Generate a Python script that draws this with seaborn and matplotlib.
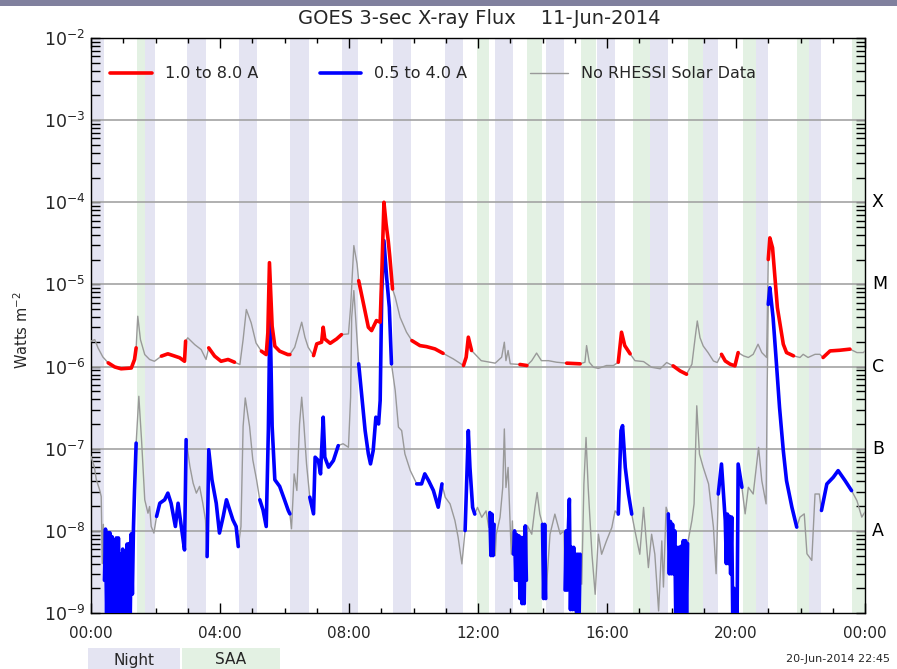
import numpy as np
import pandas as pd
import matplotlib
matplotlib.use("Agg")
import matplotlib.pyplot as plt
from matplotlib.lines import Line2D
from matplotlib.patches import Rectangle
from matplotlib.ticker import LogLocator, NullFormatter, FixedLocator
import seaborn as sns

# GOES-15 1.0-8.0 A channel: minutes after 00:00 UT, flux in W m^-2
long_min = [0, 7, 13, 22, 32, 44, 56, 75, 81, 84, 87, 92, 100, 109, 118, 131, 143, 156, 165, 174,
            176, 180, 193, 205, 214, 219, 230, 242, 255, 267, 277, 283, 289, 298, 307, 317, 326, 329, 332, 337,
            342, 351, 366, 370, 379, 392, 398, 404, 414, 420, 429, 432, 435, 445, 457, 466, 479, 483, 489, 495,
            498, 507, 516, 522, 531, 538, 541, 545, 549, 553, 556, 561, 566, 575, 587, 597, 612, 624, 640, 655,
            674, 693, 698, 702, 708, 726, 742, 752, 764, 769, 772, 776, 780, 798, 811, 820, 829, 838, 851, 866,
            885, 910, 919, 922, 927, 935, 944, 959, 972, 981, 987, 993, 1003, 1012, 1028, 1043, 1059, 1071, 1083, 1096,
            1108, 1118, 1124, 1128, 1133, 1139, 1148, 1158, 1165, 1173, 1180, 1189, 1198, 1204, 1214, 1223, 1232, 1241, 1248, 1257,
            1260, 1263, 1268, 1273, 1277, 1282, 1288, 1294, 1307, 1319, 1325, 1334, 1347, 1356, 1362, 1375, 1393, 1412, 1425, 1437,
            1440]
long_flux = [2.04e-6, 2.13e-6, 1.69e-6, 1.31e-6, 1.11e-6, 9.9e-7, 9.4e-7, 9.6e-7, 1.22e-6, 1.69e-6,
             4.1e-6, 2.13e-6, 1.4e-6, 1.22e-6, 1.16e-6, 1.34e-6, 1.43e-6, 1.34e-6, 1.28e-6, 1.16e-6,
             2.04e-6, 2.24e-6, 1.85e-6, 1.61e-6, 1.22e-6, 1.69e-6, 1.34e-6, 1.16e-6, 1.22e-6, 1.13e-6,
             1.06e-6, 2.13e-6, 4.95e-6, 3.41e-6, 1.94e-6, 1.54e-6, 1.4e-6, 2.57e-6, 1.84e-5, 3.1e-6,
             1.77e-6, 1.54e-6, 1.4e-6, 1.4e-6, 1.72e-6, 3.47e-6, 2.28e-6, 1.72e-6, 1.36e-6, 1.89e-6,
             1.98e-6, 3.01e-6, 2.17e-6, 1.92e-6, 2.17e-6, 2.45e-6, 2.5e-6, 5.27e-6, 2.97e-5, 1.78e-5,
             1.11e-5, 5.8e-6, 3.01e-6, 2.74e-6, 3.63e-6, 3.47e-6, 1.34e-5, 1.0e-4, 5.45e-5, 3.41e-5,
             2.14e-5, 8.8e-6, 6.98e-6, 3.98e-6, 2.62e-6, 2.07e-6, 1.8e-6, 1.75e-6, 1.64e-6, 1.45e-6,
             1.24e-6, 1.03e-6, 1.3e-6, 2.28e-6, 1.57e-6, 1.18e-6, 1.13e-6, 1.1e-6, 1.3e-6, 1.98e-6,
             1.18e-6, 1.57e-6, 1.08e-6, 1.06e-6, 1.03e-6, 1.18e-6, 1.46e-6, 1.18e-6, 1.18e-6, 1.13e-6,
             1.1e-6, 1.08e-6, 1.13e-6, 1.8e-6, 1.13e-6, 9.8e-7, 9.5e-7, 1.03e-6, 1.03e-6, 1.13e-6,
             2.62e-6, 1.8e-6, 1.43e-6, 1.18e-6, 1.15e-6, 9.8e-7, 9.4e-7, 1.12e-6, 1.02e-6, 8.85e-7,
             8.07e-7, 1.07e-6, 2.25e-6, 3.59e-6, 2.25e-6, 1.78e-6, 1.48e-6, 1.17e-6, 1.12e-6, 1.41e-6,
             1.17e-6, 1.07e-6, 1.02e-6, 1.48e-6, 1.35e-6, 1.29e-6, 1.41e-6, 1.87e-6, 1.48e-6, 1.29e-6,
             2.01e-5, 3.69e-5, 2.79e-5, 1.1e-5, 5.21e-6, 3.27e-6, 1.87e-6, 1.48e-6, 1.35e-6, 1.29e-6,
             1.41e-6, 1.29e-6, 1.41e-6, 1.41e-6, 1.29e-6, 1.55e-6, 1.58e-6, 1.63e-6, 1.48e-6, 1.48e-6,
             1.55e-6]

# GOES-15 0.5-4.0 A channel (quiet stretches swing rapidly between the
# upper and lower edges of the background noise)
short_min = [0, 6, 10, 16, 19, 21, 23, 25, 27, 29,
             31, 33, 35, 37, 39, 41, 43, 45, 47, 49,
             51, 53, 55, 57, 59, 61, 63, 65, 67, 69,
             71, 73, 75, 77, 79, 81, 84, 89, 94, 100,
             106, 109, 112, 117, 122, 128, 137, 143, 149, 157,
             162, 168, 174, 177, 184, 190, 196, 202, 208, 213,
             216, 219, 225, 233, 239, 246, 252, 258, 264, 270,
             274, 279, 283, 287, 295, 301, 308, 314, 320, 326,
             330, 333, 337, 342, 351, 360, 367, 370, 373, 378,
             383, 388, 392, 396, 401, 407, 414, 417, 423, 427,
             432, 435, 442, 451, 460, 469, 479, 483, 485, 489,
             494, 498, 504, 510, 516, 520, 525, 530, 535, 538,
             541, 545, 550, 555, 559, 566, 572, 578, 584, 594,
             606, 615, 621, 628, 637, 646, 653, 659, 668, 677,
             683, 690, 696, 702, 705, 710, 714, 719, 727, 735,
             740, 742, 744, 746, 748, 750, 752, 754, 761, 766,
             769, 772, 776, 780, 782, 784, 786, 788, 790, 792,
             794, 796, 798, 800, 802, 804, 806, 808, 810, 812,
             820, 826, 830, 835, 840, 842, 844, 846, 854, 863,
             873, 880, 882, 884, 886, 888, 890, 892, 894, 896,
             898, 900, 902, 904, 906, 908, 910, 913, 917, 921,
             925, 932, 938, 944, 950, 959, 969, 975, 981, 986,
             989, 994, 1000, 1006, 1012, 1021, 1028, 1037, 1043, 1049,
             1056, 1062, 1065, 1070, 1074, 1076, 1078, 1080, 1082, 1084,
             1086, 1088, 1090, 1092, 1094, 1096, 1098, 1100, 1102, 1104,
             1106, 1108, 1110, 1118, 1122, 1127, 1132, 1139, 1149, 1158,
             1163, 1167, 1173, 1180, 1182, 1184, 1186, 1188, 1190, 1192,
             1194, 1196, 1198, 1200, 1202, 1204, 1211, 1217, 1223, 1232,
             1242, 1248, 1256, 1258, 1260, 1263, 1269, 1274, 1281, 1288,
             1294, 1304, 1313, 1319, 1327, 1332, 1341, 1347, 1355, 1359,
             1369, 1381, 1390, 1403, 1415, 1425, 1434, 1440]
short_flux = [8.05e-8, 6.09e-8, 4.19e-8, 3.16e-8, 2.62e-8, 4.0e-9, 1.2e-8, 2.5e-9, 1.05e-8, 8e-10,
              9.5e-9, 8e-10, 9.5e-9, 8e-10, 8.5e-9, 8e-10, 6.9e-9, 8e-10, 8.2e-9, 8e-10,
              8.2e-9, 8e-10, 5.2e-9, 8e-10, 6.0e-9, 8e-10, 5.0e-9, 8e-10, 6.9e-9, 8e-10,
              7.0e-9, 9e-10, 9.2e-9, 1.7e-9, 1.1e-8, 3.16e-8, 1.17e-7, 4.35e-7, 1.29e-7, 2.39e-8,
              1.64e-8, 1.98e-8, 1.13e-8, 9.4e-9, 1.5e-8, 2.17e-8, 2.39e-8, 2.88e-8, 2.17e-8, 1.13e-8,
              2.17e-8, 1.13e-8, 5.86e-9, 1.29e-7, 6.09e-8, 3.81e-8, 2.88e-8, 3.48e-8, 2.17e-8, 1.36e-8,
              4.86e-9, 9.72e-8, 4.19e-8, 2.17e-8, 9.4e-9, 1.5e-8, 2.39e-8, 1.8e-8, 1.36e-8, 1.13e-8,
              6.44e-9, 1.13e-8, 1.87e-7, 4.15e-7, 1.87e-7, 7.34e-8, 4.19e-8, 2.39e-8, 1.8e-8, 1.13e-8,
              1.71e-7, 5.19e-6, 1.87e-7, 4.19e-8, 3.48e-8, 2.39e-8, 1.77e-8, 1.61e-8, 1.06e-8, 4.94e-8,
              3.1e-8, 2.0e-7, 4.24e-7, 2.0e-7, 6.53e-8, 2.57e-8, 1.61e-8, 7.88e-8, 7.18e-8, 4.94e-8,
              2.42e-7, 7.88e-8, 5.96e-8, 7.18e-8, 1.09e-7, 1.15e-7, 1.04e-7, 4.24e-7, 3.98e-6, 8.41e-6,
              2.74e-6, 1.08e-6, 4.24e-7, 1.66e-7, 8.65e-8, 6.53e-8, 9.5e-8, 2.42e-7, 2.0e-7, 3.86e-7,
              8.41e-6, 3.41e-5, 1.22e-5, 5.27e-6, 1.08e-6, 5.1e-7, 1.83e-7, 1.66e-7, 8.65e-8, 5.42e-8,
              3.73e-8, 3.73e-8, 4.94e-8, 4.1e-8, 3.1e-8, 1.94e-8, 3.73e-8, 2.57e-8, 2.13e-8, 1.34e-8,
              8.38e-9, 3.96e-9, 1.01e-8, 1.66e-7, 5.92e-8, 1.93e-8, 1.6e-8, 1.93e-8, 1.46e-8, 1.75e-8,
              1.1e-8, 1.67e-8, 5e-9, 1.6e-8, 5e-9, 1.2e-8, 5e-9, 9.1e-9, 1.46e-8, 3.37e-8,
              1.74e-7, 3.37e-8, 5.92e-8, 1.1e-8, 5.2e-9, 1.32e-8, 5.2e-9, 1.0e-8, 2.5e-9, 9e-9,
              2.5e-9, 8.7e-9, 1.5e-9, 8.3e-9, 1.3e-9, 8.3e-9, 1.3e-9, 1.15e-8, 2.5e-9, 1.15e-8,
              9.1e-9, 1.93e-8, 2.93e-8, 1.6e-8, 1.2e-8, 1.5e-9, 1.2e-8, 1.5e-9, 9.1e-9, 1.6e-8,
              9.1e-9, 1.0e-8, 1.9e-9, 1.0e-8, 1.9e-9, 1.0e-8, 2.43e-8, 1.1e-9, 6.3e-9, 1.1e-9,
              6.3e-9, 1.1e-9, 5.2e-9, 8e-10, 5.2e-9, 8e-10, 5.2e-9, 2.24e-9, 3.71e-8, 1.37e-7,
              3.37e-8, 5.19e-9, 1.69e-9, 9.1e-9, 5.19e-9, 7.55e-9, 1.1e-8, 1.75e-8, 1.6e-8, 1.66e-7,
              1.91e-7, 5.92e-8, 2.8e-8, 1.6e-8, 1.0e-8, 5.19e-9, 1.93e-8, 3.57e-9, 9.1e-9, 5.19e-9,
              1.06e-9, 7.55e-9, 2.07e-9, 1.94e-8, 1.61e-8, 3e-9, 1.3e-8, 3e-9, 1.2e-8, 3e-9,
              1.0e-8, 8e-10, 6.3e-9, 8e-10, 6.3e-9, 8e-10, 6.5e-9, 8e-10, 7.6e-9, 8e-10,
              7.6e-9, 8e-10, 7e-9, 1.34e-8, 2.13e-8, 3.33e-7, 8.61e-8, 5.93e-8, 3.72e-8, 1.11e-8,
              3.01e-9, 2.81e-8, 6.51e-8, 1.34e-8, 4e-9, 1.6e-8, 4e-9, 1.5e-8, 3e-9, 1.47e-8,
              8e-10, 2e-9, 8e-10, 1.5e-9, 8e-10, 6.51e-8, 3.39e-8, 1.61e-8, 3.39e-8, 2.81e-8,
              1.04e-7, 4.08e-8, 2.13e-8, 5.56e-7, 5.71e-6, 9.12e-6, 3.94e-6, 1.41e-6, 3.18e-7, 9.46e-8,
              4.08e-8, 1.94e-8, 1.11e-8, 1.47e-8, 1.61e-8, 5.26e-9, 4.37e-9, 2.81e-8, 2.81e-8, 1.77e-8,
              3.72e-8, 4.49e-8, 5.41e-8, 4.08e-8, 3.09e-8, 2.33e-8, 1.47e-8, 1.7e-8]

# RHESSI orbit: spacecraft night and South Atlantic Anomaly passes (hours UT)
night_start = [0.00, 1.67, 2.98, 4.59, 6.17, 7.78, 9.36, 10.98, 12.53, 14.11, 15.69, 17.33, 18.98, 20.62, 22.26]
night_end = [0.40, 1.98, 3.57, 5.15, 6.76, 8.29, 9.92, 11.53, 13.09, 14.67, 16.25, 17.89, 19.44, 20.98, 22.64]
saa_start = [1.43, 11.97, 13.52, 15.19, 16.81, 18.51, 20.22, 21.89, 23.60]
saa_end = [1.67, 12.34, 13.98, 15.66, 17.33, 18.98, 20.62, 22.26, 24.00]

# Flare classes on the right-hand axis
class_letters = ["A", "B", "C", "M", "X"]
class_levels = [1e-8, 1e-7, 1e-6, 1e-5, 1e-4]

hour_ticks = [0, 4, 8, 12, 16, 20, 24]
hour_labels = ["00:00", "04:00", "08:00", "12:00", "16:00", "20:00", "00:00"]
decades = [1e-9, 1e-8, 1e-7, 1e-6, 1e-5, 1e-4, 1e-3, 1e-2]
decade_labels = [r"$10^{-9}$", r"$10^{-8}$", r"$10^{-7}$", r"$10^{-6}$",
                 r"$10^{-5}$", r"$10^{-4}$", r"$10^{-3}$", r"$10^{-2}$"]

RED = "#ff0000"
BLUE = "#0000ff"
GREY = "#999999"
NIGHT = "#e4e4f2"
SAA = "#e3f1e3"
GRID = "#a3a3a3"

sns.set_theme(style="white")
plt.rcParams["font.family"] = ["DejaVu Sans"]
plt.rcParams["mathtext.fontset"] = "dejavusans"

W, H = 897, 669
fig = plt.figure(figsize=(W / 100, H / 100), dpi=100)
fig.patch.set_facecolor("white")
ax = fig.add_axes([91 / W, 1 - 613 / H, 774 / W, 575 / H])
ax.set_facecolor("white")

# orbit shading
for s, e in zip(night_start, night_end):
    ax.axvspan(s, e, color=NIGHT, lw=0, zorder=0)
for s, e in zip(saa_start, saa_end):
    ax.axvspan(s, e, color=SAA, lw=0, zorder=0)

ax.set_yscale("log")
ax.set_xlim(0, 24)
ax.set_ylim(1e-9, 1e-2)

gaps = list(zip(night_start, night_end)) + list(zip(saa_start, saa_end))


def rhessi_gap(hours):
    return np.any([(hours >= s) & (hours <= e) for s, e in gaps], axis=0)


def draw_channel(minutes, flux, colour):
    df = pd.DataFrame({"hour": np.asarray(minutes) / 60.0, "flux": flux})
    sns.lineplot(data=df, x="hour", y="flux", color=GREY, lw=1.0, ax=ax,
                 estimator=None, sort=False, zorder=3)
    df["sun"] = ~rhessi_gap(df["hour"].to_numpy())
    df["run"] = (df["sun"] != df["sun"].shift()).cumsum()
    for _, run in df[df["sun"]].groupby("run"):
        if len(run) < 2:
            continue
        sns.lineplot(data=run, x="hour", y="flux", color=colour, lw=2.6, ax=ax,
                     estimator=None, sort=False, zorder=4)


draw_channel(short_min, short_flux, BLUE)
draw_channel(long_min, long_flux, RED)

# decade grid lines
for d in decades[1:-1]:
    ax.axhline(d, color=GRID, lw=1.2, zorder=2)

ax.set_xlabel("")
ax.set_ylabel("")
ax.xaxis.set_major_locator(FixedLocator(hour_ticks))
ax.xaxis.set_minor_locator(FixedLocator(range(25)))
ax.set_xticklabels(hour_labels)
ax.set_yticks(decades)
ax.set_yticklabels(decade_labels)
ax.yaxis.set_minor_locator(LogLocator(base=10, subs=np.arange(2, 10), numticks=100))
ax.yaxis.set_minor_formatter(NullFormatter())
ax.tick_params(axis="x", which="major", direction="in", length=7.5, width=1.0,
               top=True, bottom=True, labelsize=11, pad=9, color="black")
ax.tick_params(axis="x", which="minor", direction="in", length=3.8, width=1.0,
               top=True, bottom=True, color="black")
ax.tick_params(axis="y", which="both", direction="in", length=6.5, width=1.0,
               left=True, right=True, labelsize=12.5, pad=4, color="black")
for sp in ax.spines.values():
    sp.set_color("black")
    sp.set_linewidth(1.0)
    sp.set_visible(True)

ytrans = ax.get_yaxis_transform()
for letter, lvl in zip(class_letters, class_levels):
    ax.text(1.009, lvl, letter, transform=ytrans, ha="left", va="center",
            fontsize=12.5, color="black", clip_on=False)

fig.text(22 / W, 1 - 330 / H, r"Watts m$^{-2}$", rotation=90, ha="center",
         va="center", fontsize=10.5)

# title
fig.text(479 / W, 1 - 19 / H, "GOES 3-sec X-ray Flux    11-Jun-2014",
         ha="center", va="center", fontsize=14)

# window strip along the top edge
fig.add_artist(Rectangle((0, 1 - 6 / H), 1, 6 / H, transform=fig.transFigure,
                         color="#80809e", lw=0))

# channel key
key_y = 1 - 73 / H
for x0, x1, colour, lw, label in [(110, 152, RED, 2.6, "1.0 to 8.0 A"),
                                  (320, 361, BLUE, 2.6, "0.5 to 4.0 A"),
                                  (530, 568, GREY, 1.0, "No RHESSI Solar Data")]:
    fig.add_artist(Line2D([x0 / W, x1 / W], [key_y, key_y], transform=fig.transFigure,
                          color=colour, lw=lw))
    fig.text((x1 + 13) / W, key_y, label, ha="left", va="center", fontsize=11.5)

# orbit key
for x0, x1, colour, label in [(88, 180, NIGHT, "Night"), (182, 280, SAA, "SAA")]:
    fig.add_artist(Rectangle((x0 / W, 0), (x1 - x0) / W, 21 / H,
                             transform=fig.transFigure, color=colour, lw=0))
    fig.text((x0 + x1) / 2 / W, 1 - 660 / H, label, ha="center", va="center", fontsize=11)

fig.text(890 / W, 1 - 659 / H, "20-Jun-2014 22:45", ha="right", va="center", fontsize=8)

fig.savefig("out.png", dpi=100)
